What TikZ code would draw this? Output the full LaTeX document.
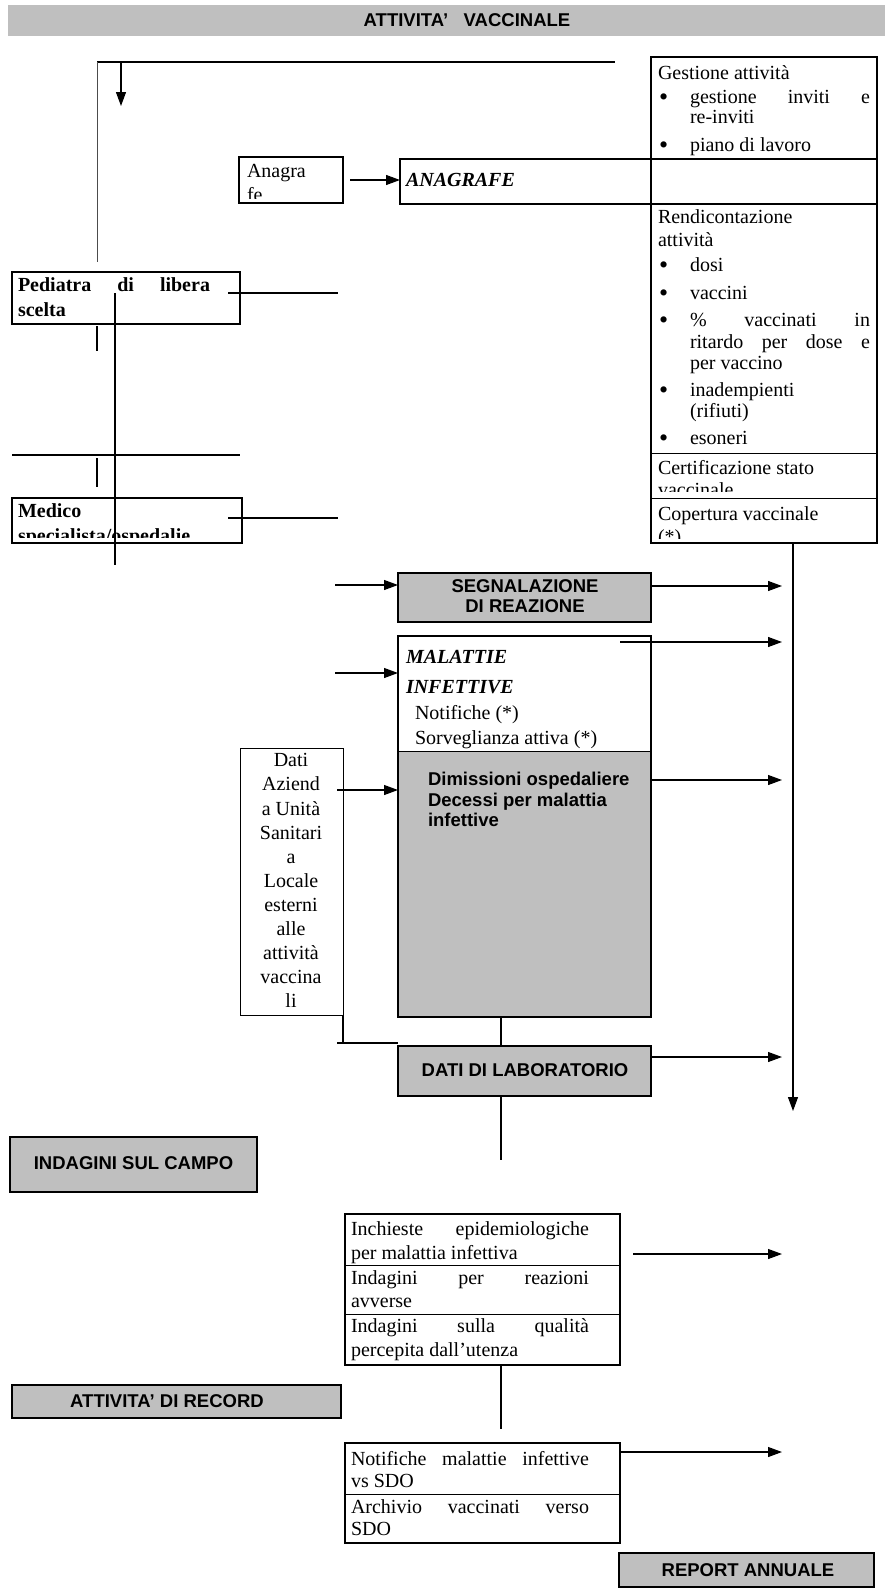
\documentclass[tikz,border=0pt]{standalone}
\usepackage{fontspec}
\setmainfont{Liberation Serif}
\setsansfont{Liberation Sans}
\usetikzlibrary{arrows.meta,fit}
\definecolor{boxgray}{RGB}{191,191,191}
\newcommand{\bul}{\makebox[31pt][l]{\raisebox{-1.5pt}{\fontsize{26}{26}\selectfont •}}}
\begin{document}
\begin{tikzpicture}[x=1pt,y=-1pt,
  every node/.style={inner sep=0pt,outer sep=0pt},
  boxframe/.style={draw,line width=#1},
  boxframe/.default=2.5pt,
  grayframe/.style={draw,fill=boxgray,line width=2.8pt},
  conn/.style={line width=1.1pt},
  arr/.style={conn,-{Triangle[length=14pt,width=10pt]}},
  tl/.style={anchor=west,text height=14pt,text depth=4.5pt,font=\fontsize{20}{22}\selectfont},
  tlb/.style={tl,font=\fontsize{20}{22}\selectfont\bfseries},
  tlbi/.style={tl,font=\fontsize{20}{22}\selectfont\bfseries\itshape},
  tc/.style={anchor=center,text height=14pt,text depth=4.5pt,font=\fontsize{20}{22}\selectfont},
  sb/.style={anchor=center,text height=13pt,text depth=3pt,font=\fontsize{18.5}{21}\selectfont\sffamily\bfseries},
  sbl/.style={sb,anchor=west},
]
\fill[white] (0,0) rectangle (885,1590);
\useasboundingbox (0,0) rectangle (885,1590);

% title
\node[fit={(8,5)(885,36)},fill=boxgray] (title) {};
\node[sb] (titletxt) at (467,21) {ATTIVITA’\ \ \ VACCINALE};

% top connectors
\coordinate (topL) at (97,62);
\coordinate (topR) at (615,62);
\coordinate (arrTop) at (121,62);
\coordinate (arrEnd) at (121,106);
\coordinate (leftEnd) at (97,262);
\draw[line width=1.6pt] (topL) -- (topR);
\draw[arr] (arrTop) -- (arrEnd);
\draw[line width=0.8pt,black!70] (topL) -- (leftEnd);

% right column
\node[fit={(651,57)(877,159)}] (gest) {};
\node[fit={(651,159)(877,204)}] (anagcell) {};
\node[fit={(651,204)(877,453)}] (rend) {};
\node[fit={(651,453)(877,498)}] (cert) {};
\node[fit={(651,498)(877,543)}] (cop) {};
\node[fit={(651,57)(877,543)},boxframe] (colbox) {};
\draw[line width=2.5pt] (gest.south west) -- (gest.south east);
\draw[line width=2.5pt] (anagcell.south west) -- (anagcell.south east);
\draw[line width=1pt] (rend.south west) -- (rend.south east);
\draw[line width=1pt] (cert.south west) -- (cert.south east);

\node[tl] (g1) at (658,75) {Gestione attività};
\node[tl] (g2) at (659,99) {\bul\makebox[180pt][s]{gestione inviti e}};
\node[tl] (g3) at (690,119) {re-inviti};
\node[tl] (g4) at (659,147) {\bul piano di lavoro};

\node[tl] (r1) at (658,219) {Rendicontazione};
\node[tl] (r2) at (658,242) {attività};
\node[tl] (r3) at (659,267) {\bul dosi};
\node[tl] (r4) at (659,295) {\bul vaccini};
\node[tl] (r5) at (659,322) {\bul\makebox[180pt][s]{\% vaccinati in}};
\node[tl] (r6) at (690,344) {\makebox[180pt][s]{ritardo per dose e}};
\node[tl] (r7) at (690,365) {per vaccino};
\node[tl] (r8) at (659,392) {\bul inadempienti};
\node[tl] (r9) at (690,413) {(rifiuti)};
\node[tl] (r10) at (659,440) {\bul esoneri};

\node[tl] (c1) at (658,470) {Certificazione stato};
\begin{scope}
  \clip (651,453) rectangle (877,491);
  \node[tl] (c2) at (658,492) {vaccinale};
\end{scope}
\node[tl] (p1) at (658,516) {Copertura vaccinale};
\begin{scope}
  \clip (651,498) rectangle (877,538);
  \node[tl] (p2) at (658,539) {(*)};
\end{scope}

% anagrafe
\node[fit={(400,159)(651,204)},boxframe] (anagrafe) {};
\node[tlbi] (anagtxt) at (406,182) {ANAGRAFE};
\node[fit={(239,157)(343,203)},boxframe=2pt] (anagra) {};
\node[tl] (anagra1) at (247,173) {Anagra};
\begin{scope}
  \clip (239,157) rectangle (343,198);
  \node[tl] (anagra2) at (247,197) {fe};
\end{scope}
\draw[arr] ([xshift=7pt]anagra.east) -- (anagra.east -| anagrafe.west);

% pediatra / medico
\node[fit={(12,272)(240,324)},boxframe] (pediatra) {};
\node[tlb] (ped1) at (18,287) {\makebox[192pt][s]{Pediatra di libera}};
\node[tlb] (ped2) at (18,312) {scelta};
\node[fit={(12,498)(242,543)},boxframe] (medico) {};
\node[tlb] (med1) at (18,513) {Medico};
\begin{scope}
  \clip (12,498) rectangle (242,537);
  \node[tlb] (med2) at (18,538) {specialista/ospedalie};
\end{scope}
\coordinate (pedR) at (338,293);
\coordinate (medR) at (338,518);
\draw[conn] ([xshift=-12pt,yshift=5pt]pediatra.east) -- (pedR);
\draw[conn] ([xshift=-14pt,yshift=2.5pt]medico.east) -- (medR);
\coordinate (v1a) at (115,293);
\coordinate (v1b) at (115,565);
\draw[conn] (v1a) -- (v1b);
\coordinate (s1a) at (97,326);
\coordinate (s1b) at (97,351);
\draw[conn] (s1a) -- (s1b);
\coordinate (h1a) at (12,455);
\coordinate (h1b) at (240,455);
\draw[line width=1.6pt] (h1a) -- (h1b);
\coordinate (s2a) at (97,458);
\coordinate (s2b) at (97,487);
\draw[conn] (s2a) -- (s2b);

% segnalazione
\node[fit={(398,573)(651,622)},grayframe] (segn) {};
\node[sb] (segn1) at (525,587) {SEGNALAZIONE};
\node[sb] (segn2) at (525,607) {DI REAZIONE};
\coordinate (sIn) at (335,585);
\coordinate (sOut) at (782,586);
\draw[arr] (sIn) -- (sIn -| segn.west);
\draw[arr] (sOut -| segn.east) -- (sOut);

% malattie infettive
\node[fit={(398,751)(651,1017)},fill=boxgray,draw,line width=1pt] (malgray) {};
\node[fit={(398,636)(651,1017)},boxframe=2.8pt] (malbox) {};
\node[tlbi] (mal1) at (406,659) {MALATTIE};
\node[tlbi] (mal2) at (406,689) {INFETTIVE};
\node[tl] (mal3) at (415,715) {Notifiche (*)};
\node[tl] (mal4) at (415,740) {Sorveglianza attiva (*)};
\node[sbl] (dim1) at (428,780) {Dimissioni ospedaliere};
\node[sbl] (dim2) at (428,801) {Decessi per malattia};
\node[sbl] (dim3) at (428,821) {infettive};
\coordinate (mIn) at (335,673);
\coordinate (mOutS) at (620,642);
\coordinate (mOut) at (782,642);
\draw[arr] (mIn) -- (mIn -| malbox.west);
\draw[arr] (mOutS) -- (mOut);
\coordinate (dimOut) at (782,780);
\draw[arr] (dimOut -| malbox.east) -- (dimOut);

% dati aziendali
\node[fit={(240,748)(343,1015)},draw,line width=1pt] (dati) {};
\foreach \t [count=\i] in {Dati,Aziend,a Unità,Sanitari,a,Locale,esterni,alle,attività,vaccina,li}
  \node[tc] (dati\i) at (291,{738+24.1*\i}) {\t};
\coordinate (dOutS) at (337,790);
\draw[arr] (dOutS) -- (dOutS -| malbox.west);

% dati di laboratorio
\node[fit={(398,1046)(651,1096)},grayframe] (datilab) {};
\node[sb] (datilabtxt) at (525,1071) {DATI DI LABORATORIO};
\coordinate (dk) at (343,1043);
\draw[conn] (dati.south east) -- (dk) -- (dk -| datilab.west);
\draw[conn] ([xshift=-6pt]dk) -- (dk);
\coordinate (vx) at (501,0);
\draw[conn] (vx |- malbox.south) -- (vx |- datilab.north);
\coordinate (lOut) at (782,1057);
\draw[arr] (lOut -| datilab.east) -- (lOut);
\coordinate (vlab) at (501,1160);
\draw[conn] (vx |- datilab.south) -- (vlab);

% column vertical
\coordinate (cx) at (793,0);
\coordinate (cEnd) at (793,1111);
\draw[arr] (cx |- colbox.south) -- (cEnd);

% indagini
\node[fit={(10,1137)(257,1192)},grayframe] (indag) {};
\node[sb] (indagtxt) at (indag.center) {INDAGINI SUL CAMPO};

\node[fit={(345,1214)(620,1265)}] (inchA) {};
\node[fit={(345,1265)(620,1314)}] (inchB) {};
\node[fit={(345,1314)(620,1365)}] (inchC) {};
\node[fit={(345,1214)(620,1365)},boxframe=2pt] (inch) {};
\draw[line width=1pt] (inchA.south west) -- (inchA.south east);
\draw[line width=1pt] (inchB.south west) -- (inchB.south east);
\node[tl] (i1) at (351,1231) {\makebox[238pt][s]{Inchieste epidemiologiche}};
\node[tl] (i2) at (351,1255) {per malattia infettiva};
\node[tl] (i3) at (351,1280) {\makebox[238pt][s]{Indagini per reazioni}};
\node[tl] (i4) at (351,1303) {avverse};
\node[tl] (i5) at (351,1328) {\makebox[238pt][s]{Indagini sulla qualità}};
\node[tl] (i6) at (351,1352) {percepita dall’utenza};
\coordinate (iOut) at (782,1254);
\draw[arr] ([xshift=13pt]iOut -| inch.east) -- (iOut);

% record
\node[fit={(12,1385)(341,1418)},grayframe] (record) {};
\node[sb] (recordtxt) at (167,1402) {ATTIVITA’ DI RECORD};
\coordinate (vrec) at (501,1429);
\draw[conn] (vx |- inch.south) -- (vrec);

\node[fit={(345,1443)(620,1494)}] (notA) {};
\node[fit={(345,1494)(620,1543)}] (notB) {};
\node[fit={(345,1443)(620,1543)},boxframe=2pt] (notif) {};
\draw[line width=1pt] (notA.south west) -- (notA.south east);
\node[tl] (n1) at (351,1461) {\makebox[238pt][s]{Notifiche malattie infettive}};
\node[tl] (n2) at (351,1483) {vs SDO};
\node[tl] (n3) at (351,1509) {\makebox[238pt][s]{Archivio vaccinati verso}};
\node[tl] (n4) at (351,1531) {SDO};
\coordinate (nOut) at (782,1452);
\draw[arr] (nOut -| notif.east) -- (nOut);

% report
\node[fit={(619,1553)(874,1587)},grayframe] (report) {};
\node[sb] (reporttxt) at (748,1571) {REPORT ANNUALE};
\end{tikzpicture}
\end{document}
